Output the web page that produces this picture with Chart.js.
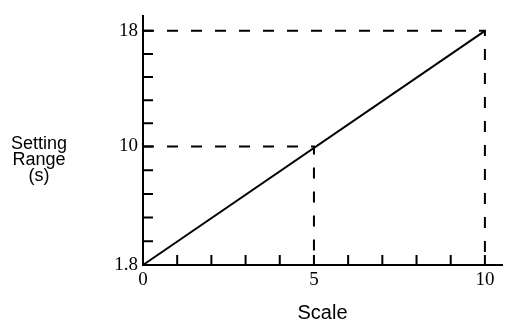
<!DOCTYPE html>
<html>
<head>
<meta charset="utf-8">
<script src="https://cdn.jsdelivr.net/npm/chart.js@4.4.0/dist/chart.umd.min.js"></script>
<style>
  body { margin: 0; background: #fff; }
</style>
</head>
<body>
<canvas id="myChart" width="507" height="325"></canvas>
<script>
// straight line of the setting range against the scale
var xValues = [0, 10];
var yValues = [1.8, 18];
var markX = [5, 10];
var markY = [10, 18];
// ticks
var xTicks = [0, 1, 2, 3, 4, 5, 6, 7, 8, 9, 10];
var xTickLabels = ["0", "", "", "", "", "5", "", "", "", "", "10"];
var yTicks = [1.8, 3.44, 5.08, 6.72, 8.36, 10, 11.6, 13.2, 14.8, 16.4, 18];
var yTickLabels = ["1.8", "", "", "", "", "10", "", "", "", "", "18"];
var yTitle = ["Setting", "Range", "(s)"];

var lineData = xValues.map(function (x, i) { return { x: x, y: yValues[i] }; });

var datasets = [{
  data: lineData,
  borderColor: '#000',
  borderWidth: 2,
  pointRadius: 0,
  clip: false
}];
markX.forEach(function (x, i) {
  datasets.push({
    data: [{ x: 0, y: markY[i] }, { x: x, y: markY[i] }, { x: x, y: yValues[0] }],
    borderColor: '#000',
    borderWidth: 2,
    borderDash: [11, 13],
    pointRadius: 0,
    clip: false
  });
});

// tick marks are drawn inside the plot
var insideTicks = {
  id: 'insideTicks',
  afterDatasetsDraw: function (chart) {
    var ctx = chart.ctx, sx = chart.scales.x, sy = chart.scales.y;
    var x0 = sx.getPixelForValue(0), y0 = sy.getPixelForValue(yValues[0]);
    ctx.save();
    ctx.strokeStyle = '#000';
    ctx.lineWidth = 2;
    ctx.beginPath();
    sx.ticks.forEach(function (t) {
      var px = sx.getPixelForValue(t.value);
      ctx.moveTo(px, y0);
      ctx.lineTo(px, y0 - 10);
    });
    sy.ticks.forEach(function (t) {
      var py = sy.getPixelForValue(t.value);
      ctx.moveTo(x0, py);
      ctx.lineTo(x0 + 10, py);
    });
    ctx.stroke();
    ctx.restore();
  }
};

// horizontal y axis title on the left
var sideTitle = {
  id: 'sideTitle',
  afterDraw: function (chart) {
    var ctx = chart.ctx;
    ctx.save();
    ctx.fillStyle = '#000';
    ctx.font = '18px "Liberation Sans", Arial, sans-serif';
    ctx.textAlign = 'center';
    ctx.textBaseline = 'middle';
    yTitle.forEach(function (t, i) {
      ctx.fillText(t, 39, 144 + i * 16);
    });
    ctx.restore();
  }
};

new Chart("myChart", {
  type: 'line',
  data: { datasets: datasets },
  options: {
    responsive: false,
    animation: false,
    layout: { padding: { top: 13, right: 5, left: 0, bottom: 0 } },
    plugins: { legend: { display: false }, tooltip: { enabled: false } },
    scales: {
      x: {
        type: 'linear',
        min: 0,
        max: 10.5,
        afterBuildTicks: function (s) { s.ticks = xTicks.map(function (v) { return { value: v }; }); },
        afterFit: function (s) { s.height = 60; },
        grid: { display: true, drawOnChartArea: false, drawTicks: false },
        border: { display: true, color: '#000', width: 2 },
        ticks: {
          autoSkip: false,
          maxRotation: 0,
          padding: 4,
          color: '#000',
          font: { family: '"Liberation Serif", serif', size: 19 },
          callback: function (v) { var i = xTicks.indexOf(v); return i < 0 ? '' : xTickLabels[i]; }
        },
        title: {
          display: true,
          text: 'Scale',
          color: '#000',
          font: { family: '"Liberation Sans", Arial, sans-serif', size: 20 },
          padding: { top: 0, bottom: 0 }
        }
      },
      y: {
        type: 'linear',
        min: 1.8,
        max: 19,
        afterBuildTicks: function (s) { s.ticks = yTicks.map(function (v) { return { value: v }; }); },
        afterFit: function (s) { s.width = 143; },
        grid: { display: true, drawOnChartArea: false, drawTicks: false },
        border: { display: true, color: '#000', width: 2 },
        ticks: {
          autoSkip: false,
          padding: 5,
          color: '#000',
          font: { family: '"Liberation Serif", serif', size: 19 },
          callback: function (v) { var i = yTicks.indexOf(v); return i < 0 ? '' : yTickLabels[i]; }
        }
      }
    }
  },
  plugins: [insideTicks, sideTitle]
});
</script>
</body>
</html>
